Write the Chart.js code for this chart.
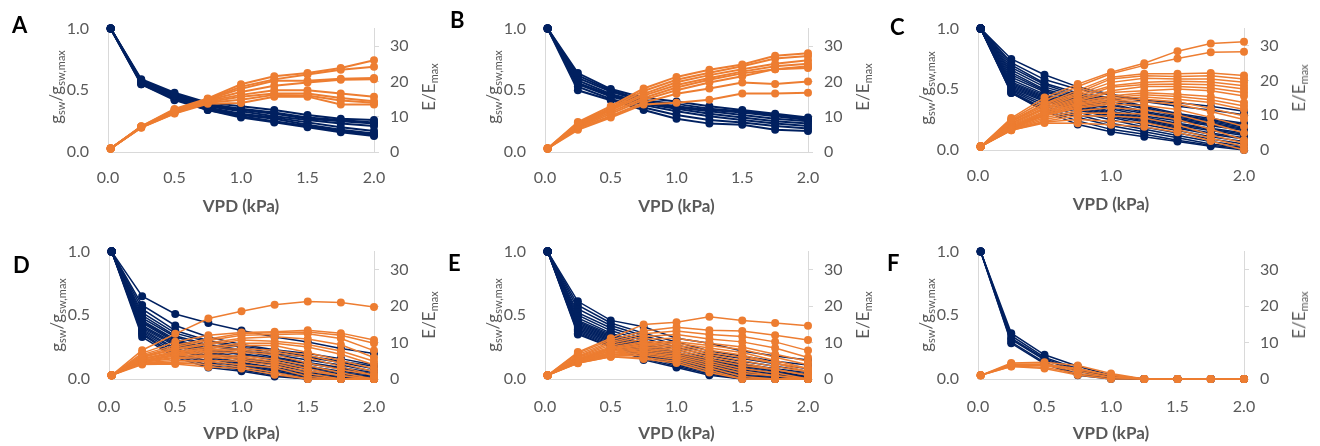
<!DOCTYPE html>
<html>
<head>
<meta charset="utf-8">
<script src="https://cdn.jsdelivr.net/npm/chart.js@4.4.1/dist/chart.umd.min.js"></script>
<style>
  html, body { margin: 0; padding: 0; background: #fff; }
  #wrap { position: relative; width: 1320px; height: 446px; overflow: hidden; font-family: Lato, sans-serif; }
  .panel { position: absolute; width: 440px; height: 223px; }
  .letter { position: absolute; font-weight: bold; font-size: 22px; line-height: 22px; color: #000; }
  .xt { position: absolute; font-weight: bold; font-size: 17px; color: #595959; white-space: nowrap; transform: translate(-50%, -50%); }
  .yt { position: absolute; font-size: 17px; line-height: 20px; color: #595959; white-space: nowrap; transform: translate(-50%, -50%) rotate(-90deg); }
  .yt sub { font-size: 11px; vertical-align: -3px; line-height: 0; }
</style>
</head>
<body>
<div id="wrap"></div>
<script>
// x positions (VPD, kPa) shared by every series
const vpd = [0.02, 0.25, 0.5, 0.75, 1.0, 1.25, 1.5, 1.75, 2.0];

// tick labels
const xTicks = [0, 0.5, 1, 1.5, 2];
const xTicksWide = [0, 1, 2];
const gTicks = [0, 0.5, 1];
const eTicks = [0, 10, 20, 30];
const panelNames = ['A', 'B', 'C', 'D', 'E', 'F'];

// panel A
const gA = [
  [1, 0.59, 0.48, 0.40, 0.37, 0.34, 0.30, 0.27, 0.26],
  [1, 0.58, 0.47, 0.39, 0.35, 0.32, 0.28, 0.26, 0.24],
  [1, 0.58, 0.46, 0.38, 0.34, 0.31, 0.27, 0.25, 0.23],
  [1, 0.57, 0.46, 0.37, 0.33, 0.29, 0.26, 0.23, 0.21],
  [1, 0.56, 0.45, 0.36, 0.31, 0.28, 0.24, 0.20, 0.17],
  [1, 0.56, 0.44, 0.35, 0.30, 0.27, 0.22, 0.18, 0.15],
  [1, 0.55, 0.43, 0.34, 0.29, 0.25, 0.21, 0.17, 0.14],
  [1, 0.55, 0.42, 0.34, 0.28, 0.24, 0.20, 0.16, 0.13]
];
const eA = [
  [1, 7.3, 12.2, 15.2, 19.2, 21.5, 22.4, 23.8, 26.0],
  [1, 7.2, 12.0, 15.0, 18.5, 20.6, 22.0, 23.3, 24.2],
  [1, 7.2, 11.8, 14.9, 17.9, 20.2, 20.2, 20.8, 21.0],
  [1, 7.1, 11.6, 14.7, 17.0, 18.8, 19.7, 20.5, 20.6],
  [1, 7.1, 11.4, 14.5, 16.2, 17.5, 17.5, 16.6, 15.7],
  [1, 7.0, 11.2, 14.2, 15.7, 16.6, 16.6, 15.3, 14.4],
  [1, 7.0, 11.0, 14.0, 14.8, 16.2, 16.0, 14.6, 14.0],
  [1, 6.9, 10.9, 13.7, 13.9, 15.7, 15.7, 13.5, 13.5]
];

// panel B
const gB = [
  [1, 0.64, 0.51, 0.44, 0.41, 0.37, 0.34, 0.31, 0.28],
  [1, 0.62, 0.50, 0.42, 0.39, 0.35, 0.33, 0.30, 0.27],
  [1, 0.60, 0.49, 0.41, 0.37, 0.34, 0.32, 0.29, 0.26],
  [1, 0.58, 0.47, 0.40, 0.36, 0.33, 0.30, 0.27, 0.25],
  [1, 0.56, 0.46, 0.39, 0.35, 0.31, 0.28, 0.25, 0.23],
  [1, 0.55, 0.45, 0.38, 0.33, 0.29, 0.26, 0.23, 0.21],
  [1, 0.53, 0.43, 0.36, 0.30, 0.26, 0.24, 0.21, 0.19],
  [1, 0.50, 0.42, 0.34, 0.27, 0.23, 0.22, 0.18, 0.17]
];
const eB = [
  [1, 8.5, 13.0, 18.0, 21.3, 23.3, 24.8, 27.3, 28.0],
  [1, 8.2, 12.5, 17.3, 20.5, 22.5, 24.3, 26.5, 27.2],
  [1, 7.8, 12.2, 16.5, 19.8, 21.8, 23.5, 25.0, 26.0],
  [1, 7.5, 11.8, 16.0, 19.0, 21.0, 22.8, 24.3, 25.0],
  [1, 7.3, 11.3, 15.3, 18.3, 20.5, 22.3, 23.5, 24.3],
  [1, 7.0, 10.8, 14.8, 17.5, 19.7, 21.5, 23.5, 23.8],
  [1, 6.7, 10.2, 14.0, 16.5, 18.0, 19.7, 19.3, 20.0],
  [1, 6.3, 9.8, 13.5, 14.0, 14.8, 16.6, 16.6, 16.8]
];

// panel C
const gC = [
  [1, 0.75, 0.62, 0.52, 0.46, 0.41, 0.39, 0.36, 0.32],
  [1, 0.72, 0.58, 0.50, 0.45, 0.40, 0.36, 0.33, 0.29],
  [1, 0.70, 0.55, 0.47, 0.43, 0.36, 0.30, 0.26, 0.22],
  [1, 0.68, 0.54, 0.45, 0.42, 0.35, 0.29, 0.25, 0.21],
  [1, 0.66, 0.52, 0.44, 0.40, 0.34, 0.28, 0.24, 0.20],
  [1, 0.64, 0.50, 0.43, 0.38, 0.32, 0.27, 0.23, 0.19],
  [1, 0.62, 0.49, 0.41, 0.37, 0.31, 0.26, 0.22, 0.18],
  [1, 0.60, 0.48, 0.40, 0.35, 0.30, 0.25, 0.21, 0.17],
  [1, 0.58, 0.46, 0.39, 0.34, 0.28, 0.24, 0.20, 0.16],
  [1, 0.56, 0.45, 0.38, 0.32, 0.27, 0.22, 0.18, 0.14],
  [1, 0.55, 0.44, 0.37, 0.31, 0.26, 0.21, 0.17, 0.13],
  [1, 0.54, 0.43, 0.36, 0.30, 0.25, 0.20, 0.16, 0.12],
  [1, 0.53, 0.42, 0.35, 0.29, 0.24, 0.19, 0.14, 0.10],
  [1, 0.52, 0.41, 0.34, 0.28, 0.23, 0.18, 0.13, 0.09],
  [1, 0.51, 0.40, 0.33, 0.27, 0.21, 0.16, 0.11, 0.07],
  [1, 0.50, 0.38, 0.31, 0.25, 0.19, 0.14, 0.09, 0.05],
  [1, 0.49, 0.36, 0.29, 0.22, 0.17, 0.12, 0.07, 0.03],
  [1, 0.48, 0.34, 0.27, 0.20, 0.15, 0.10, 0.05, 0.02],
  [1, 0.47, 0.33, 0.24, 0.17, 0.13, 0.08, 0.04, 0.01],
  [1, 0.47, 0.32, 0.21, 0.15, 0.11, 0.07, 0.03, 0.00]
];
const eC = [
  [1, 9.2, 15.1, 19.0, 22.4, 25.0, 28.5, 30.7, 31.2],
  [1, 8.8, 14.2, 18.3, 22.0, 24.4, 26.4, 28.2, 28.3],
  [1, 8.5, 13.4, 17.2, 21.0, 22.0, 22.0, 22.2, 21.5],
  [1, 8.3, 13.2, 16.5, 20.5, 21.4, 21.2, 21.4, 20.5],
  [1, 8.1, 12.7, 16.1, 19.5, 20.7, 20.5, 20.5, 19.5],
  [1, 7.8, 12.2, 15.7, 18.5, 19.5, 19.8, 19.6, 18.5],
  [1, 7.6, 12.0, 15.0, 18.1, 18.9, 19.0, 18.8, 17.6],
  [1, 7.3, 11.7, 14.6, 17.1, 18.3, 18.3, 17.9, 16.6],
  [1, 7.1, 11.2, 14.3, 16.6, 17.1, 17.6, 17.1, 15.6],
  [1, 6.8, 11.0, 13.9, 15.6, 16.5, 16.1, 15.4, 13.7],
  [1, 6.7, 10.7, 13.5, 15.1, 15.9, 15.4, 14.5, 12.7],
  [1, 6.6, 10.5, 13.2, 14.6, 15.3, 14.6, 13.7, 11.7],
  [1, 6.5, 10.2, 12.8, 14.2, 14.6, 13.9, 12.0, 9.8],
  [1, 6.3, 10.0, 12.4, 13.7, 14.0, 13.2, 11.1, 8.8],
  [1, 6.2, 9.8, 12.1, 13.2, 12.8, 11.7, 9.4, 6.8],
  [1, 6.1, 9.3, 11.3, 12.2, 11.6, 10.2, 7.7, 4.9],
  [1, 6.0, 8.8, 10.6, 10.7, 10.4, 8.8, 6.0, 2.9],
  [1, 5.9, 8.3, 9.9, 9.8, 9.2, 7.3, 4.3, 2.0],
  [1, 5.7, 8.1, 8.8, 8.3, 7.9, 5.9, 3.4, 1.0],
  [1, 5.7, 7.8, 7.7, 7.3, 6.7, 5.1, 2.6, 0.0]
];

// panel D
const gD = [
  [1, 0.65, 0.51, 0.44, 0.38, 0.33, 0.29, 0.24, 0.20],
  [1, 0.58, 0.42, 0.33, 0.27, 0.23, 0.20, 0.16, 0.11],
  [1, 0.55, 0.38, 0.30, 0.26, 0.22, 0.18, 0.14, 0.10],
  [1, 0.52, 0.36, 0.29, 0.25, 0.20, 0.17, 0.13, 0.08],
  [1, 0.50, 0.34, 0.27, 0.23, 0.19, 0.15, 0.11, 0.06],
  [1, 0.48, 0.33, 0.26, 0.22, 0.17, 0.13, 0.09, 0.05],
  [1, 0.46, 0.31, 0.24, 0.20, 0.16, 0.12, 0.08, 0.04],
  [1, 0.45, 0.30, 0.23, 0.19, 0.15, 0.10, 0.06, 0.03],
  [1, 0.44, 0.29, 0.22, 0.17, 0.13, 0.09, 0.05, 0.02],
  [1, 0.42, 0.28, 0.21, 0.16, 0.12, 0.08, 0.04, 0.01],
  [1, 0.41, 0.27, 0.20, 0.15, 0.11, 0.06, 0.03, 0.01],
  [1, 0.40, 0.26, 0.18, 0.13, 0.09, 0.05, 0.02, 0.00],
  [1, 0.39, 0.24, 0.17, 0.12, 0.08, 0.04, 0.01, 0.00],
  [1, 0.38, 0.23, 0.16, 0.11, 0.07, 0.03, 0.01, 0.00],
  [1, 0.37, 0.21, 0.14, 0.10, 0.06, 0.02, 0.00, 0.00],
  [1, 0.36, 0.19, 0.13, 0.08, 0.05, 0.01, 0.00, 0.00],
  [1, 0.35, 0.18, 0.11, 0.07, 0.03, 0.00, 0.00, 0.00],
  [1, 0.33, 0.17, 0.09, 0.06, 0.02, 0.00, 0.00, 0.00]
];
const eD = [
  [1, 7.9, 12.4, 16.6, 18.6, 20.4, 21.3, 21.0, 19.8],
  [1, 7.1, 10.2, 12.0, 12.8, 13.0, 13.4, 12.6, 10.7],
  [1, 6.7, 9.3, 11.0, 12.5, 12.7, 12.9, 12.0, 9.8],
  [1, 6.3, 8.8, 10.6, 12.0, 12.2, 12.4, 11.1, 7.8],
  [1, 6.1, 8.3, 9.9, 11.2, 11.6, 11.0, 9.4, 5.9],
  [1, 5.9, 8.1, 9.5, 10.7, 10.4, 9.5, 7.7, 4.9],
  [1, 5.6, 7.6, 8.8, 9.8, 9.8, 8.8, 6.8, 3.9],
  [1, 5.5, 7.3, 8.4, 9.3, 9.2, 7.3, 5.1, 2.9],
  [1, 5.4, 7.1, 8.1, 8.3, 7.9, 6.6, 4.3, 2.0],
  [1, 5.1, 6.8, 7.7, 7.8, 7.3, 5.9, 3.4, 1.0],
  [1, 5.0, 6.6, 7.3, 7.3, 6.7, 4.4, 2.6, 1.0],
  [1, 4.9, 6.3, 6.6, 6.3, 5.5, 3.7, 1.7, 0.0],
  [1, 4.8, 5.9, 6.2, 5.9, 4.9, 2.9, 0.9, 0.0],
  [1, 4.6, 5.6, 5.9, 5.4, 4.3, 2.2, 0.9, 0.0],
  [1, 4.5, 5.1, 5.1, 4.9, 3.7, 1.5, 0.0, 0.0],
  [1, 4.4, 4.6, 4.8, 3.9, 3.1, 0.7, 0.0, 0.0],
  [1, 4.3, 4.4, 4.0, 3.4, 1.8, 0.0, 0.0, 0.0],
  [1, 4.0, 4.1, 3.3, 2.9, 1.2, 0.0, 0.0, 0.0]
];

// panel E
const gE = [
  [1, 0.61, 0.46, 0.41, 0.32, 0.28, 0.22, 0.18, 0.15],
  [1, 0.58, 0.44, 0.36, 0.29, 0.22, 0.18, 0.14, 0.11],
  [1, 0.55, 0.42, 0.34, 0.27, 0.20, 0.16, 0.12, 0.08],
  [1, 0.52, 0.40, 0.32, 0.25, 0.18, 0.14, 0.10, 0.06],
  [1, 0.50, 0.38, 0.30, 0.23, 0.16, 0.12, 0.08, 0.05],
  [1, 0.48, 0.36, 0.28, 0.21, 0.15, 0.11, 0.07, 0.04],
  [1, 0.46, 0.35, 0.27, 0.20, 0.14, 0.10, 0.06, 0.03],
  [1, 0.45, 0.34, 0.26, 0.19, 0.13, 0.09, 0.05, 0.03],
  [1, 0.44, 0.33, 0.25, 0.18, 0.12, 0.08, 0.05, 0.02],
  [1, 0.43, 0.32, 0.24, 0.17, 0.11, 0.07, 0.04, 0.02],
  [1, 0.42, 0.31, 0.23, 0.16, 0.10, 0.06, 0.03, 0.01],
  [1, 0.41, 0.30, 0.22, 0.15, 0.09, 0.05, 0.03, 0.01],
  [1, 0.40, 0.29, 0.21, 0.14, 0.08, 0.04, 0.02, 0.00],
  [1, 0.39, 0.28, 0.20, 0.13, 0.07, 0.03, 0.01, 0.00],
  [1, 0.38, 0.27, 0.19, 0.12, 0.06, 0.02, 0.01, 0.00],
  [1, 0.37, 0.26, 0.18, 0.11, 0.05, 0.01, 0.00, 0.00],
  [1, 0.36, 0.25, 0.16, 0.10, 0.04, 0.00, 0.00, 0.00],
  [1, 0.35, 0.25, 0.15, 0.09, 0.03, 0.00, 0.00, 0.00]
];
const eE = [
  [1, 7.4, 11.2, 15.0, 15.6, 17.1, 16.1, 15.4, 14.6],
  [1, 7.1, 10.7, 13.2, 14.2, 13.4, 13.2, 12.0, 10.7],
  [1, 6.7, 10.2, 12.4, 13.2, 12.2, 11.7, 10.2, 7.8],
  [1, 6.3, 9.8, 11.7, 12.2, 11.0, 10.2, 8.5, 5.9],
  [1, 6.1, 9.3, 11.0, 11.2, 9.8, 8.8, 6.8, 4.9],
  [1, 5.9, 8.8, 10.2, 10.2, 9.2, 8.1, 6.0, 3.9],
  [1, 5.6, 8.5, 9.9, 9.8, 8.5, 7.3, 5.1, 2.9],
  [1, 5.5, 8.3, 9.5, 9.3, 7.9, 6.6, 4.3, 2.9],
  [1, 5.4, 8.1, 9.2, 8.8, 7.3, 5.9, 4.3, 2.0],
  [1, 5.2, 7.8, 8.8, 8.3, 6.7, 5.1, 3.4, 2.0],
  [1, 5.1, 7.6, 8.4, 7.8, 6.1, 4.4, 2.6, 1.0],
  [1, 5.0, 7.3, 8.1, 7.3, 5.5, 3.7, 2.6, 1.0],
  [1, 4.9, 7.1, 7.7, 6.8, 4.9, 2.9, 1.7, 0.0],
  [1, 4.8, 6.8, 7.3, 6.3, 4.3, 2.2, 0.9, 0.0],
  [1, 4.6, 6.6, 7.0, 5.9, 3.7, 1.5, 0.9, 0.0],
  [1, 4.5, 6.3, 6.6, 5.4, 3.1, 0.7, 0.0, 0.0],
  [1, 4.4, 6.1, 5.9, 4.9, 2.4, 0.0, 0.0, 0.0],
  [1, 4.3, 6.1, 5.5, 4.4, 1.8, 0.0, 0.0, 0.0]
];

// panel F
const gF = [
  [1, 0.36, 0.19, 0.10, 0.03, 0, 0, 0, 0],
  [1, 0.34, 0.17, 0.08, 0.02, 0, 0, 0, 0],
  [1, 0.32, 0.16, 0.07, 0.02, 0, 0, 0, 0],
  [1, 0.31, 0.15, 0.06, 0.01, 0, 0, 0, 0],
  [1, 0.29, 0.13, 0.04, 0.01, 0, 0, 0, 0],
  [1, 0.28, 0.12, 0.03, 0.00, 0, 0, 0, 0]
];
const eF = [
  [1, 4.4, 4.6, 3.7, 1.5, 0, 0, 0, 0],
  [1, 4.1, 4.1, 2.9, 1.0, 0, 0, 0, 0],
  [1, 3.9, 3.9, 2.6, 1.0, 0, 0, 0, 0],
  [1, 3.8, 3.7, 2.2, 0.5, 0, 0, 0, 0],
  [1, 3.5, 3.2, 1.5, 0.5, 0, 0, 0, 0],
  [1, 3.4, 2.9, 1.1, 0.0, 0, 0, 0, 0]
];

const gSets = [gA, gB, gC, gD, gE, gF];
const eSets = [eA, eB, eC, eD, eE, eF];

// styling
const navy = '#002060';
const orange = '#ED7D31';
const axisGrey = '#D9D9D9';
const textGrey = '#595959';
Chart.defaults.font.family = 'Lato, sans-serif';
Chart.defaults.color = textGrey;

// where each panel sits on the page; area = plot rectangle (page px)
const layout = [
  { left: 0,   top: 0,   area: { l: 108, r: 374,  t: 22,  b: 152 }, letter: { x: 12,  y: 14 },  ticks: xTicks,     lw: 2 },
  { left: 440, top: 0,   area: { l: 545, r: 808,  t: 22,  b: 152 }, letter: { x: 450, y: 9 },   ticks: xTicks,     lw: 2 },
  { left: 880, top: 0,   area: { l: 978, r: 1244, t: 25,  b: 150 }, letter: { x: 890, y: 16 },  ticks: xTicksWide, lw: 1.5 },
  { left: 0,   top: 223, area: { l: 109, r: 374,  t: 250, b: 379 }, letter: { x: 13,  y: 254 }, ticks: xTicks,     lw: 1.5 },
  { left: 440, top: 223, area: { l: 545, r: 808,  t: 250, b: 379 }, letter: { x: 448, y: 252 }, ticks: xTicks,     lw: 1.5 },
  { left: 880, top: 223, area: { l: 978, r: 1244, t: 250, b: 379 }, letter: { x: 887, y: 252 }, ticks: xTicks,     lw: 1.5 }
];

const wrap = document.getElementById('wrap');

function addText(cls, html, x, y) {
  const el = document.createElement('div');
  el.className = cls;
  el.innerHTML = html;
  el.style.left = x + 'px';
  el.style.top = y + 'px';
  wrap.appendChild(el);
}

function series(vals, color, axis, order, width) {
  return {
    data: vals.map((v, i) => ({ x: vpd[i], y: v })),
    yAxisID: axis,
    showLine: true,
    borderColor: color,
    backgroundColor: color,
    pointBackgroundColor: color,
    pointBorderColor: color,
    pointBorderWidth: 0,
    pointRadius: 4,
    borderWidth: width,
    order: order,
    clip: false
  };
}

layout.forEach((p, k) => {
  const a = p.area;
  const box = document.createElement('div');
  box.className = 'panel';
  box.style.left = p.left + 'px';
  box.style.top = p.top + 'px';
  const canvas = document.createElement('canvas');
  canvas.width = 440;
  canvas.height = 223;
  box.appendChild(canvas);
  wrap.appendChild(box);

  // orange (E) drawn over navy (g)
  const datasets = [];
  eSets[k].forEach(s => datasets.push(series(s, orange, 'y2', 0, p.lw)));
  gSets[k].forEach(s => datasets.push(series(s, navy, 'y', 1, p.lw)));

  const xPad = p.top === 0 ? 16 : 18;

  new Chart(canvas.getContext('2d'), {
    type: 'scatter',
    data: { datasets },
    options: {
      responsive: false,
      animation: false,
      events: [],
      layout: { padding: { top: a.t - p.top, left: 0, right: 0, bottom: 0 } },
      plugins: { legend: { display: false }, tooltip: { enabled: false } },
      scales: {
        x: {
          type: 'linear', position: 'bottom', min: 0, max: 2,
          afterFit: s => { s.height = p.top + 223 - a.b; },
          afterBuildTicks: s => { s.ticks = p.ticks.map(v => ({ value: v })); },
          grid: { display: false, drawTicks: false },
          border: { display: true, color: axisGrey, width: 1 },
          ticks: { color: textGrey, font: { size: 16 }, padding: xPad, maxRotation: 0, autoSkip: false,
                   callback: v => Number(v).toFixed(1) }
        },
        y: {
          type: 'linear', position: 'left', min: 0, max: 1,
          afterFit: s => { s.width = a.l - p.left; },
          afterBuildTicks: s => { s.ticks = gTicks.map(v => ({ value: v })); },
          grid: { display: false, drawTicks: false },
          border: { display: true, color: axisGrey, width: 1 },
          ticks: { color: textGrey, font: { size: 16 }, padding: 19, callback: v => Number(v).toFixed(1) }
        },
        y2: {
          type: 'linear', position: 'right', min: 0, max: 35,
          afterFit: s => { s.width = p.left + 440 - a.r; },
          afterBuildTicks: s => { s.ticks = eTicks.map(v => ({ value: v })); },
          grid: { display: true, drawOnChartArea: false, drawTicks: true, tickLength: 5, color: axisGrey },
          border: { display: true, color: axisGrey, width: 1 },
          ticks: { color: textGrey, font: { size: 16 }, padding: 11, callback: v => String(v) }
        }
      }
    }
  });

  // panel letter and axis titles
  addText('letter', panelNames[k], p.letter.x, p.letter.y);
  addText('xt', 'VPD (kPa)', (a.l + a.r) / 2, a.b + 53);
  addText('yt', 'g<sub>sw</sub>/g<sub>sw,max</sub>', a.l - 52, (a.t + a.b) / 2);
  addText('yt', 'E/E<sub>max</sub>', a.r + 55, (a.t + a.b) / 2);
});
</script>
</body>
</html>
